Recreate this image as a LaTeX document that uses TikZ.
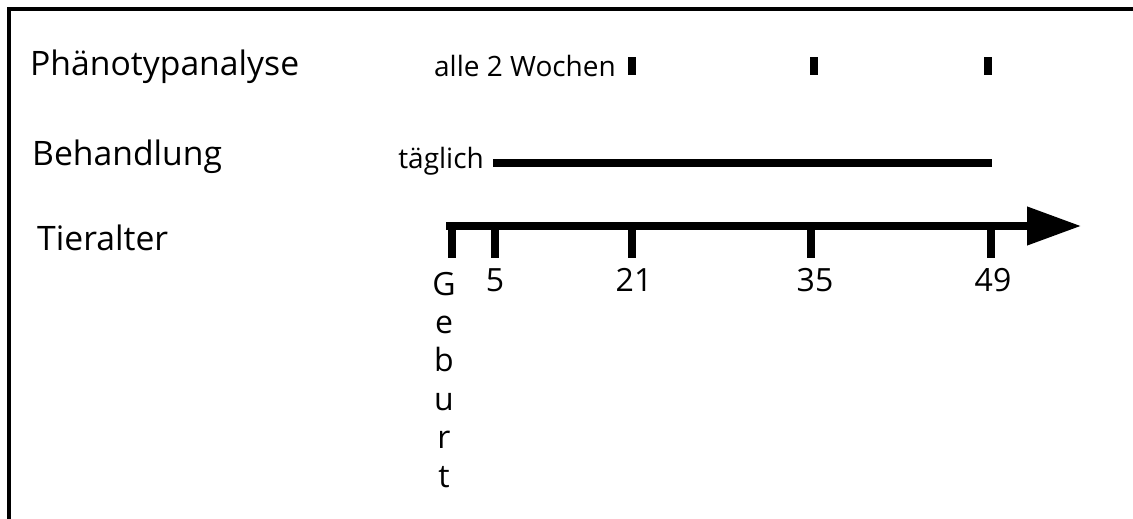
\documentclass[tikz,border=0pt]{standalone}
\usepackage{fontspec}
\setmainfont{Open Sans}
\usetikzlibrary{arrows.meta}
\begin{document}
\begin{tikzpicture}[x=1pt,y=-1pt,
  biglbl/.style={inner sep=0pt, anchor=base west, font=\fontsize{33.7}{40}\selectfont},
  smalllbl/.style={inner sep=0pt, anchor=base east, font=\fontsize{28}{33}\selectfont},
  ticklbl/.style={inner sep=0pt, anchor=base, font=\fontsize{32}{40}\selectfont},
  tickmark/.style={line width=8pt},
  phenomark/.style={fill=black, draw=none},
  frameline/.style={line width=4pt}]
\useasboundingbox (0,0) rectangle (1133,519);
% frame (left and top edges)
\coordinate (fa) at (9,519);
\coordinate (fb) at (9,9);
\coordinate (fc) at (1133,9);
\draw[frameline] (fa) -- (fb) -- (fc);
% row labels
\node[biglbl] (pheno) at (30,76) {Phänotypanalyse};
\node[biglbl] (behand) at (32,165) {Behandlung};
\node[biglbl] (tier) at (37,250) {Tieralter};
% phenotype analysis
\node[smalllbl] (alle) at (616,77) {alle 2 Wochen};
\fill[phenomark] (628,57) rectangle (636,75);
\fill[phenomark] (810,57) rectangle (818,75);
\fill[phenomark] (984,57) rectangle (992,75);
% treatment
\node[smalllbl] (taeglich) at (484,168) {täglich};
\coordinate (tend) at (992,163);
\draw[line width=8pt] (taeglich.east |- tend) ++(9,0) -- (tend);
% axis
\coordinate (ax0) at (446,226);
\coordinate (ax1) at (1081,226);
\draw[line width=7.5pt, -{Triangle[length=54pt,width=37pt]}] (ax0) -- (ax1);
% ticks
\foreach \n/\x in {g/452,d5/495,d21/632,d35/811,d49/991}{
  \coordinate (t\n) at (\x,258);
  \draw[tickmark] (\x,226) -- (t\n);
}
\node[ticklbl] (l5) at (495,291) {5};
\node[ticklbl] (l21) at (634,291) {21};
\node[ticklbl] (l35) at (815,291) {35};
\node[ticklbl] (l49) at (993,291) {49};
\node[inner sep=0pt, anchor=base, align=center, font=\fontsize{32}{38.4}\selectfont] (geb) at (444,487) {G\\e\\b\\u\\r\\t};
\end{tikzpicture}
\end{document}
